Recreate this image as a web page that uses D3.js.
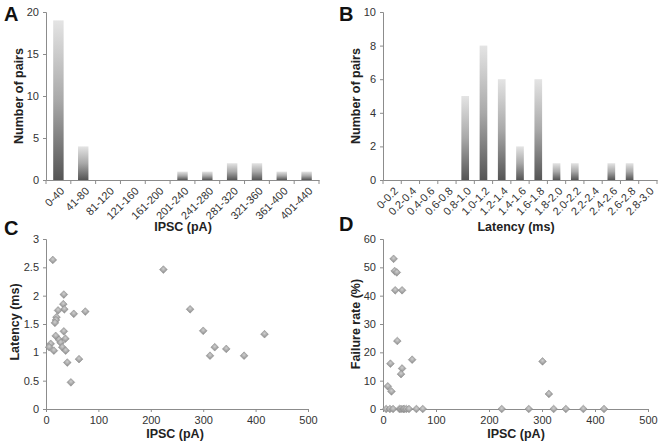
<!DOCTYPE html>
<html><head><meta charset="utf-8">
<script src="https://cdn.jsdelivr.net/npm/d3@7"></script>
<style>
body{margin:0;background:#fff;}
svg text{font-family:"Liberation Sans",Arial,sans-serif;}
</style></head>
<body><svg id="c" width="666" height="444"></svg>
<script>
const ipscBins = ["0-40","41-80","81-120","121-160","161-200","201-240","241-280","281-320","321-360","361-400","401-440"];
const ipscCounts = [19,4,0,0,0,1,1,2,2,1,1];
const latBins = ["0-0.2","0.2-0.4","0.4-0.6","0.6-0.8","0.8-1.0","1.0-1.2","1.2-1.4","1.4-1.6","1.6-1.8","1.8-2.0","2.0-2.2","2.2-2.4","2.4-2.6","2.6-2.8","2.8-3.0"];
const latCounts = [0,0,0,0,5,8,6,2,6,1,1,0,1,1,0];
const cIPSC = [13,34,33,35,23,20,19,17,53,75,34,18.5,25,37,9,28,6,31,15,37.5,40.6,63,47.5,224,275,300,322,313,344,378,417];
const cLat  = [2.63,2.02,1.85,1.76,1.74,1.62,1.57,1.52,1.68,1.72,1.37,1.29,1.22,1.24,1.15,1.17,1.09,1.09,1.03,1.03,0.82,0.88,0.47,2.46,1.76,1.38,1.09,0.94,1.06,0.94,1.32];
const dIPSC = [20,22,26,23,36,27,14,55,36,34,9,16,301,313,6,13,19,31,34,38,40,44,49,63,75,224,275,322,345,378,417];
const dRate = [53,48.7,48.2,41.9,41.9,24,16,17.4,14.3,12.3,8,6.2,16.8,5.3,0,0,0,0,0,0,0,0,0,0,0,0,0,0,0,0,0];
const yTicksA = [0,5,10,15,20];
const yTicksB = [0,2,4,6,8,10];
const yTicksC = [0,0.5,1,1.5,2,2.5,3];
const yTicksD = [0,10,20,30,40,50,60];
const xTicksCD = [0,100,200,300,400,500];

const svg = d3.select("#c");
const defs = svg.append("defs");
const g1 = defs.append("linearGradient").attr("id","barg").attr("x1",0).attr("y1",0).attr("x2",0).attr("y2",1);
g1.append("stop").attr("offset","0").attr("stop-color","#e4e4e4");
g1.append("stop").attr("offset","0.5").attr("stop-color","#a9a9a9");
g1.append("stop").attr("offset","1").attr("stop-color","#555");
const g2 = defs.append("radialGradient").attr("id","dmg").attr("cx","0.4").attr("cy","0.4").attr("r","0.7");
g2.append("stop").attr("offset","0").attr("stop-color","#cfcfcf");
g2.append("stop").attr("offset","1").attr("stop-color","#929292");

const axisCol = "#8c8c8c", textCol = "#333";

function styleAxis(sel){
  sel.selectAll("path,line").attr("stroke",axisCol);
  sel.selectAll("text").attr("fill",textCol).attr("font-size","11px");
}
function panelLetter(t,x,y){
  svg.append("text").attr("x",x).attr("y",y).text(t).attr("font-size","20px").attr("font-weight","bold").attr("fill","#111");
}
function yTitle(t,x,y){
  svg.append("text").attr("transform",`translate(${x},${y}) rotate(-90)`).attr("text-anchor","middle")
    .attr("font-size","12.5px").attr("font-weight","bold").attr("fill","#222").text(t);
}
function xTitle(t,x,y){
  svg.append("text").attr("x",x).attr("y",y).attr("text-anchor","middle")
    .attr("font-size","12.5px").attr("font-weight","bold").attr("fill","#222").text(t);
}

function histogram(bins,counts,yTicks,x0,x1,y0,y1,barW){
  const x = d3.scaleBand().domain(bins).range([x0,x1]);
  const y = d3.scaleLinear().domain([0,yTicks[yTicks.length-1]]).range([y0,y1]);
  const bw = x.bandwidth()*barW;
  svg.append("g").selectAll("rect").data(bins).join("rect")
    .attr("x",d=>x(d)+(x.bandwidth()-bw)/2)
    .attr("width",bw)
    .attr("y",(d,i)=>y(counts[i]))
    .attr("height",(d,i)=>y0-y(counts[i]))
    .attr("fill","url(#barg)");
  const ya = svg.append("g").attr("transform",`translate(${x0},0)`)
    .call(d3.axisLeft(y).tickValues(yTicks).tickSize(3).tickPadding(4));
  styleAxis(ya);
  const xa = svg.append("g").attr("transform",`translate(0,${y0})`)
    .call(d3.axisBottom(x).tickSize(0).tickFormat(""));
  styleAxis(xa);
  const bounds = bins.map(b=>x(b)).concat([x1]);
  svg.append("g").selectAll("line").data(bounds).join("line")
    .attr("x1",d=>d).attr("x2",d=>d).attr("y1",y0).attr("y2",y0+4).attr("stroke",axisCol);
  svg.append("g").selectAll("text").data(bins).join("text")
    .attr("transform",d=>`translate(${x(d)+x.bandwidth()/2+4},${y0+9}) rotate(-45)`)
    .attr("text-anchor","end").attr("dy","0.35em").attr("font-size","11px").attr("fill",textCol).text(d=>d);
}

function scatter(xs,ys,yTicks,x0,x1,y0,y1){
  const x = d3.scaleLinear().domain([0,500]).range([x0,x1]);
  const y = d3.scaleLinear().domain([0,yTicks[yTicks.length-1]]).range([y0,y1]);
  const ya = svg.append("g").attr("transform",`translate(${x0},0)`)
    .call(d3.axisLeft(y).tickValues(yTicks).tickSize(3).tickPadding(4).tickFormat(d3.format("")));
  styleAxis(ya);
  const xa = svg.append("g").attr("transform",`translate(0,${y0})`)
    .call(d3.axisBottom(x).tickValues(xTicksCD).tickSize(3).tickPadding(4));
  styleAxis(xa);
  const sym = d3.symbol().type(d3.symbolSquare).size(30);
  svg.append("g").selectAll("path").data(xs).join("path")
    .attr("d",sym)
    .attr("transform",(d,i)=>`translate(${x(d)},${y(ys[i])}) rotate(45)`)
    .attr("fill","url(#dmg)").attr("stroke","#8a8a8a").attr("stroke-width",0.5);
}

// Panel A
histogram(ipscBins,ipscCounts,yTicksA,46,319,180,12,0.42);
panelLetter("A",4,21);
yTitle("Number of pairs",23,96);
xTitle("IPSC (pA)",183,231);

// Panel B
histogram(latBins,latCounts,yTicksB,383,657,180,12,0.42);
panelLetter("B",339,21);
yTitle("Number of pairs",360,96);
xTitle("Latency (ms)",516,231);

// Panel C
scatter(cIPSC,cLat,yTicksC,46,308,409,239);
panelLetter("C",4,235);
yTitle("Latency (ms)",19,322);
xTitle("IPSC (pA)",175,438);

// Panel D
scatter(dIPSC,dRate,yTicksD,383,648,409,239);
panelLetter("D",339,231);
yTitle("Failure rate (%)",360,324);
xTitle("IPSC (pA)",516,438);
</script></body></html>
